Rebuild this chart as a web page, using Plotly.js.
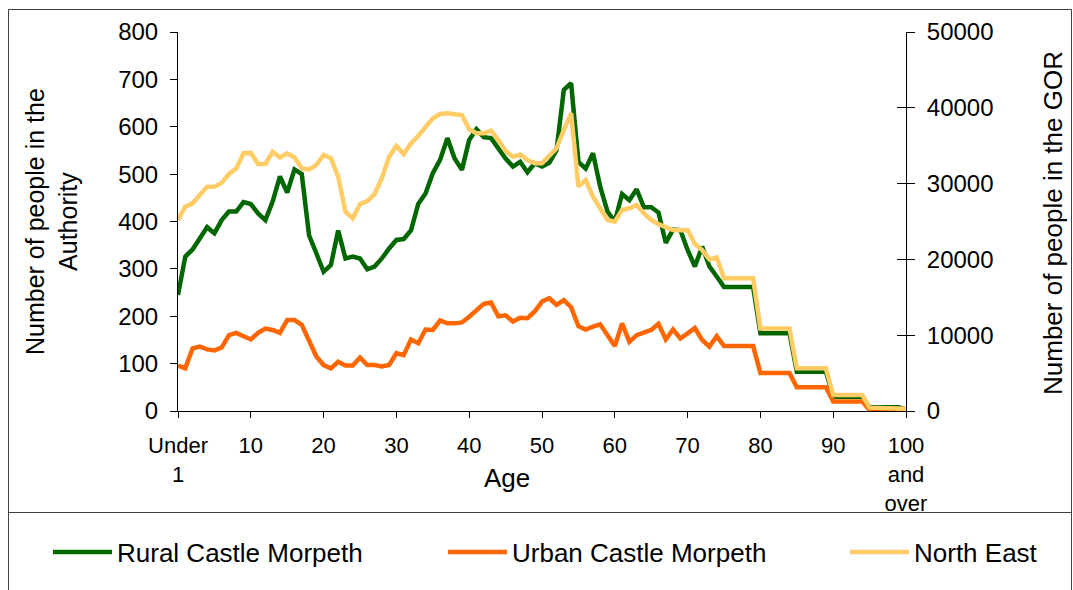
<!DOCTYPE html>
<html>
<head>
<meta charset="utf-8">
<script src="https://cdn.plot.ly/plotly-3.0.1.min.js"></script>
<style>
html,body{margin:0;padding:0;background:#fff;}
#chart{width:1073px;height:590px;}
</style>
</head>
<body>
<div id="chart"></div>
<script>
// ---- data ----
var ages = [];
for (var a = 0; a <= 100; a++) ages.push(a);

var rural = [
  245,326,341,364,388,375,403,421,421,441,
  437,417,403,442,495,461,510,500,371,333,
  294,308,381,322,326,322,299,305,322,343,
  361,363,381,437,459,502,530,576,533,509,
  572,595,578,576,554,533,516,526,504,523,
  516,524,551,678,692,526,512,544,473,421,
  400,458,445,468,430,430,419,355,383,382,
  340,305,347,305,284,
  262,262,262,262,262,
  164,164,164,164,164,
  83,83,83,83,83,
  30,30,30,30,30,
  8,8,8,8,8,
  3
];

var urban = [
  96,90,132,136,130,128,134,160,165,158,
  151,165,174,171,165,192,192,182,146,115,
  97,90,104,96,96,113,97,97,94,97,
  122,118,151,143,172,171,191,185,185,187,
  199,213,226,229,200,202,189,197,196,210,
  231,238,224,234,219,179,172,178,183,160,
  137,185,146,160,165,171,184,151,172,153,
  164,175,150,136,158,
  137,137,137,137,137,
  80,80,80,80,80,
  50,50,50,50,50,
  20,20,20,20,20,
  2,2,2,2,2,
  1
];

var northEast = [
  25200,26950,27400,28500,29600,29600,30100,31270,32000,34000,
  34050,32600,32600,34200,33450,34000,33450,32000,31880,32450,
  33770,33340,30900,26300,25420,27300,27700,28600,30700,33550,
  34960,33900,35300,36300,37500,38600,39180,39270,39150,39050,
  37160,36630,36630,36980,35750,34300,33550,33830,33100,32680,
  32680,33770,34650,37070,39270,29600,30480,28270,26600,25200,
  24980,26520,26740,27180,26080,25200,24650,24230,23880,23840,
  23880,22030,21240,20010,20270,
  17500,17500,17500,17500,17500,
  10900,10900,10900,10900,10900,
  5630,5630,5630,5630,5630,
  2110,2110,2110,2110,2110,
  440,440,440,440,440,
  300
];

var tickVals = [0,10,20,30,40,50,60,70,80,90,100];
var tickText = ['Under<br>1','10','20','30','40','50','60','70','80','90','100<br>and<br>over'];

var seriesNames = ['Rural Castle Morpeth','Urban Castle Morpeth','North East'];
var seriesColors = ['#006600','#FF6600','#FFCC66'];

// ---- layout helpers (pixel -> paper) ----
var W = 1073, H = 590;
var L = 178, R = 906, T = 32, B = 411;
function px(x){ return (x - L) / (R - L); }
function py(y){ return (B - y) / (B - T); }

var FONT = 'Liberation Sans, Arial, sans-serif';

var traces = [
  {x: ages, y: rural, name: seriesNames[0], type: 'scatter', mode: 'lines',
   line: {color: seriesColors[0], width: 4.5}, yaxis: 'y', legend: 'legend'},
  {x: ages, y: urban, name: seriesNames[1], type: 'scatter', mode: 'lines',
   line: {color: seriesColors[1], width: 4.5}, yaxis: 'y', legend: 'legend2'},
  {x: ages, y: northEast, name: seriesNames[2], type: 'scatter', mode: 'lines',
   line: {color: seriesColors[2], width: 4.5}, yaxis: 'y2', legend: 'legend3'}
];

function legendAt(xPix) {
  return {orientation: 'h', x: px(xPix), xanchor: 'left', y: py(552), yanchor: 'middle',
          font: {family: FONT, size: 26, color: '#000'}, itemwidth: 59,
          bgcolor: 'rgba(0,0,0,0)', borderwidth: 0};
}

var layout = {
  width: W, height: H,
  margin: {l: L, r: W - R, t: T, b: H - B, pad: 0, autoexpand: false},
  paper_bgcolor: '#ffffff', plot_bgcolor: '#ffffff',
  font: {family: FONT, size: 24, color: '#000'},
  showlegend: true,
  legend: legendAt(48),
  legend2: legendAt(443),
  legend3: legendAt(845),
  xaxis: {range: [0, 100], tickvals: tickVals, ticktext: tickText, showgrid: false, zeroline: false,
          showline: true, linecolor: '#000', linewidth: 1, ticks: 'outside', ticklen: 6, tickcolor: '#000',
          ticklabelstandoff: 9,
          tickfont: {family: FONT, size: 22, color: '#000'}, fixedrange: true},
  yaxis: {range: [0, 800], dtick: 100, showgrid: false, zeroline: false, showline: true,
          linecolor: '#000', linewidth: 1, ticks: 'outside', ticklen: 7, tickcolor: '#000',
          ticklabelstandoff: 7,
          tickfont: {family: FONT, size: 24, color: '#000'}, fixedrange: true},
  yaxis2: {range: [0, 50000], dtick: 10000, tickformat: 'd', overlaying: 'y', side: 'right', showgrid: false,
           zeroline: false, showline: true, linecolor: '#000', linewidth: 1, ticks: 'outside',
           ticklen: 8, tickcolor: '#000', ticklabelstandoff: 7,
           tickfont: {family: FONT, size: 24, color: '#000'}, fixedrange: true},
  yaxis3: {range: [0, 50000], dtick: 10000, overlaying: 'y', side: 'right', anchor: 'x', showgrid: false,
           zeroline: false, showline: false, ticks: 'inside', ticklen: 9, tickcolor: '#000',
           showticklabels: false, fixedrange: true},
  annotations: [
    {text: 'Age', xref: 'paper', yref: 'paper', x: px(507), y: py(478), showarrow: false,
     xanchor: 'center', yanchor: 'middle', font: {family: FONT, size: 26, color: '#000'}},
    {text: 'Number of people in the<br>Authority', xref: 'paper', yref: 'paper', x: px(51), y: py(222),
     textangle: -90, showarrow: false, xanchor: 'center', yanchor: 'middle',
     font: {family: FONT, size: 25, color: '#000'}},
    {text: 'Number of people in the GOR', xref: 'paper', yref: 'paper', x: px(1053), y: py(223),
     textangle: -90, showarrow: false, xanchor: 'center', yanchor: 'middle',
     font: {family: FONT, size: 26, color: '#000'}}
  ],
  shapes: [
    {type: 'rect', xref: 'paper', yref: 'paper', x0: px(8.5), x1: px(1071.5), y0: py(9.5), y1: py(640),
     line: {color: '#404040', width: 1}, fillcolor: 'rgba(0,0,0,0)', layer: 'above'},
    {type: 'line', xref: 'paper', yref: 'paper', x0: px(8.5), x1: px(1071.5), y0: py(512.5), y1: py(512.5),
     line: {color: '#404040', width: 1}, layer: 'above'}
  ]
};

// invisible helper trace so the crossing-tick axis is drawn
traces.push({x: [0], y: [0], yaxis: 'y3', type: 'scatter', mode: 'lines', showlegend: false,
             hoverinfo: 'skip', line: {width: 0}, opacity: 0});

Plotly.newPlot('chart', traces, layout, {staticPlot: true, displayModeBar: false});
</script>
</body>
</html>
